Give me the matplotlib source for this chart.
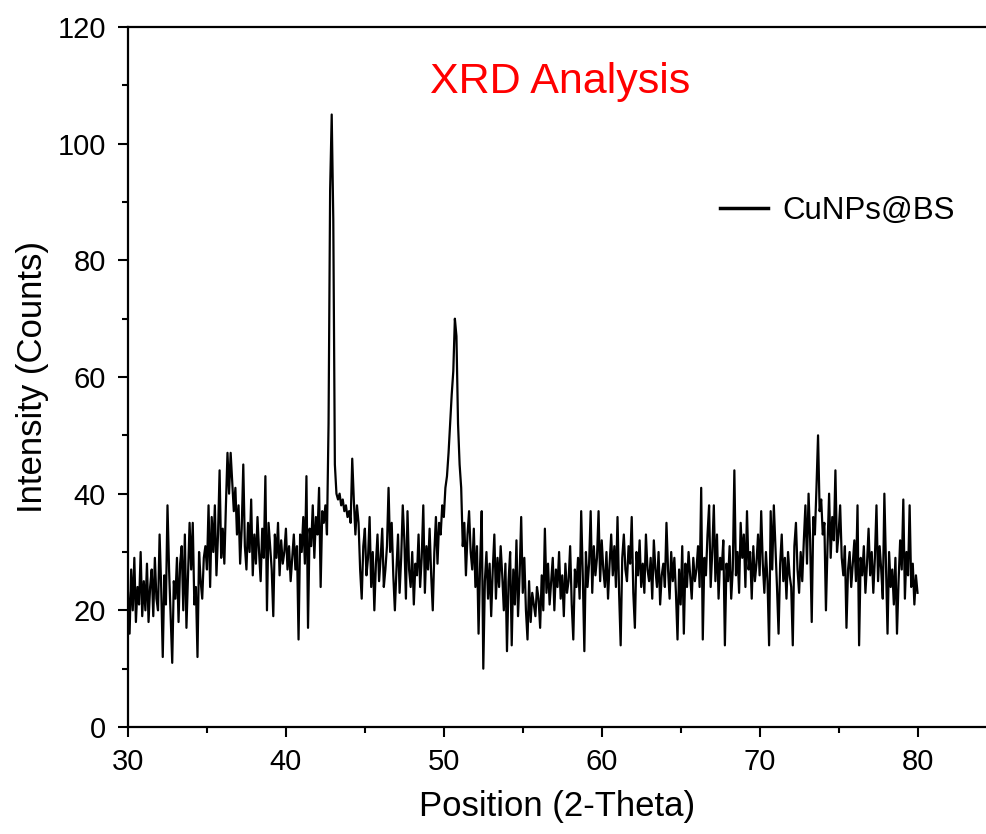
import numpy as np
import matplotlib
matplotlib.use('Agg')
import matplotlib.pyplot as plt
from matplotlib.ticker import MultipleLocator

plt.rcParams['font.family'] = ['Liberation Sans', 'DejaVu Sans']

# XRD pattern, every 0.1 deg (one row per degree)
two_theta_start = 30.0
two_theta_step = 0.1
counts_30s = [
    23, 16, 27, 20, 29, 18, 24, 21, 30, 19,
    25, 20, 28, 18, 24, 27, 19, 29, 22, 20,
    33, 24, 12, 26, 21, 38, 27, 19, 11, 25,
    22, 29, 18, 28, 31, 20, 33, 17, 26, 35,
    27, 35, 21, 24, 12, 30, 25, 22, 29, 31,
    27, 38, 24, 36, 30, 38, 26, 33, 44, 29,
    34, 28, 38, 47, 40, 47, 42, 37, 41, 33,
    38, 28, 34, 45, 31, 27, 35, 30, 39, 26,
    33, 28, 36, 30, 25, 34, 29, 43, 20, 35,
    31, 27, 19, 33, 29, 35, 26, 32, 28, 30,
]
counts_40s = [
    34, 27, 31, 25, 29, 33, 27, 31, 15, 33,
    30, 36, 28, 43, 17, 34, 31, 38, 29, 36,
    33, 41, 24, 37, 35, 38, 33, 52, 92, 105,
    87, 45, 40, 39, 40, 38, 39, 37, 38, 36,
    37, 35, 46, 39, 33, 38, 35, 27, 22, 31,
    34, 26, 29, 36, 24, 30, 20, 28, 33, 25,
    29, 34, 24, 27, 31, 41, 30, 35, 26, 20,
    27, 33, 23, 29, 38, 32, 22, 37, 27, 24,
    30, 21, 28, 26, 33, 24, 29, 38, 23, 31,
    27, 34, 26, 20, 30, 36, 28, 35, 33, 38,
]
counts_50s = [
    36, 41, 43, 47, 52, 57, 61, 70, 67, 52,
    45, 41, 31, 35, 26, 33, 37, 30, 27, 34,
    24, 31, 16, 28, 37, 10, 25, 30, 22, 28,
    19, 27, 33, 22, 29, 24, 31, 26, 20, 28,
    13, 25, 30, 14, 27, 21, 32, 19, 26, 36,
    23, 29, 20, 15, 25, 18, 23, 21, 19, 24,
    22, 17, 26, 20, 34, 23, 28, 21, 25, 29,
    20, 27, 24, 30, 22, 26, 19, 28, 23, 25,
    31, 21, 15, 27, 24, 29, 22, 37, 26, 13,
    30, 24, 28, 37, 23, 31, 26, 29, 37, 25,
]
counts_60s = [
    32, 27, 24, 30, 22, 28, 33, 26, 31, 24,
    36, 23, 14, 29, 33, 27, 25, 31, 28, 36,
    23, 17, 30, 26, 32, 24, 28, 23, 33, 27,
    25, 29, 22, 32, 27, 24, 30, 21, 26, 28,
    24, 35, 27, 22, 30, 25, 29, 23, 15, 27,
    21, 31, 16, 28, 24, 30, 26, 22, 29, 25,
    27, 31, 24, 41, 15, 29, 26, 33, 38, 24,
    30, 38, 25, 33, 22, 29, 27, 32, 14, 28,
    25, 31, 22, 27, 44, 26, 30, 23, 35, 29,
    33, 24, 37, 27, 30, 22, 31, 25, 28, 33,
]
counts_70s = [
    26, 37, 28, 23, 30, 25, 14, 37, 27, 38,
    31, 24, 16, 28, 33, 25, 29, 22, 30, 26,
    24, 14, 31, 35, 27, 23, 30, 25, 32, 38,
    28, 40, 32, 18, 36, 33, 41, 50, 37, 39,
    33, 35, 20, 31, 40, 29, 36, 32, 44, 30,
    33, 38, 29, 26, 31, 17, 27, 30, 24, 28,
    32, 25, 38, 14, 29, 26, 31, 23, 28, 34,
    26, 30, 23, 29, 38, 25, 31, 27, 22, 40,
    28, 16, 30, 24, 27, 21, 29, 16, 25, 32,
    27, 39, 22, 30, 26, 38, 24, 28, 21, 26,
    23,
]
series_label = 'CuNPs@BS'

counts = np.array(counts_30s + counts_40s + counts_50s + counts_60s + counts_70s)
two_theta = two_theta_start + two_theta_step*np.arange(len(counts))

fig = plt.figure(figsize=(9.87, 8.34), dpi=100)
ax = fig.add_axes([0.1297, 0.1283, 1-0.1297, 0.9676-0.1283])

ax.plot(two_theta, counts, color='black', lw=1.6, label=series_label)

ax.set_xlim(30, 84.4)
ax.set_ylim(0, 120)
ax.xaxis.set_major_locator(MultipleLocator(10))
ax.xaxis.set_minor_locator(MultipleLocator(5))
ax.yaxis.set_major_locator(MultipleLocator(20))
ax.yaxis.set_minor_locator(MultipleLocator(10))
ax.tick_params(which='both', direction='out', top=False, right=False, width=1.5, labelsize=21)
ax.tick_params(which='major', length=7)
ax.tick_params(which='minor', length=4)
ax.tick_params(axis='x', pad=8)
ax.tick_params(axis='y', pad=9)
ax.spines['right'].set_visible(False)
for s in ['left', 'bottom', 'top']:
    ax.spines[s].set_linewidth(1.6)

ax.set_xlabel('Position (2-Theta)', fontsize=25, labelpad=10)
ax.set_ylabel('Intensity (Counts)', fontsize=25, labelpad=6)

fig.text(560/987, 1-82/834, 'XRD Analysis', color='red', fontsize=31, ha='center', va='center')

leg = ax.legend(loc='center left', bbox_to_anchor=(720/987, 1-211/834), bbox_transform=fig.transFigure,
                frameon=False, fontsize=22.5, handlelength=1.55, handletextpad=0.45, borderpad=0, borderaxespad=0)
for h in leg.get_lines():
    h.set_linewidth(2.5)

fig.savefig('out.png', dpi=100)
